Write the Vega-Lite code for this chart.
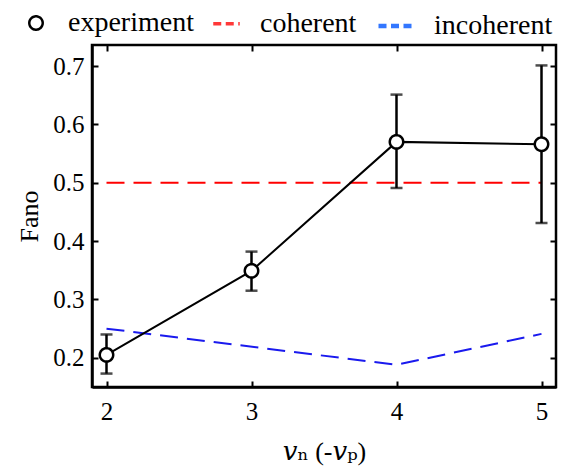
{
  "$schema": "https://vega.github.io/schema/vega-lite/v6.json",
  "width": 464,
  "height": 342,
  "autosize": {"type": "none"},
  "padding": {"left": 92, "top": 45, "right": 9, "bottom": 88},
  "background": "white",
  "config": {
    "font": "Liberation Serif",
    "view": {"stroke": "black", "strokeWidth": 2.5},
    "axis": {"grid": false, "domainColor": "black", "domainWidth": 2.5, "tickColor": "black", "tickWidth": 2, "tickSize": -6, "labelFont": "Liberation Serif", "labelFontSize": 25, "labelColor": "black", "titleFont": "Liberation Serif", "titleFontSize": 26, "titleColor": "black", "titleFontWeight": "normal"},
    "legend": {"title": null, "orient": "none", "direction": "horizontal", "legendX": -70, "legendY": -39, "labelFontSize": 28, "labelFont": "Liberation Serif", "labelColor": "black", "labelOffset": 18, "columnPadding": 12}
  },
  "datasets": {
    "exp": [
      {"v": 2, "fano": 0.205, "lo": 0.173, "hi": 0.240, "series": "experiment"},
      {"v": 3, "fano": 0.349, "lo": 0.315, "hi": 0.382, "series": "experiment"},
      {"v": 4, "fano": 0.570, "lo": 0.491, "hi": 0.651, "series": "experiment"},
      {"v": 5, "fano": 0.566, "lo": 0.431, "hi": 0.701, "series": "experiment"}
    ],
    "coh": [
      {"v": 2, "fano": 0.5, "series": "coherent"},
      {"v": 5, "fano": 0.5, "series": "coherent"}
    ],
    "inc": [
      {"v": 2, "fano": 0.250, "series": "incoherent"},
      {"v": 4, "fano": 0.188, "series": "incoherent"},
      {"v": 5, "fano": 0.241, "series": "incoherent"}
    ]
  },
  "layer": [
    {
      "layer": [
        {
          "data": {"name": "coh"},
          "mark": {"type": "line", "strokeWidth": 2, "strokeDash": [18, 9], "stroke": "#ff0000"},
          "encoding": {
            "x": {"field": "v", "type": "quantitative"},
            "y": {"field": "fano", "type": "quantitative"}
          }
        },
        {
          "data": {"name": "inc"},
          "mark": {"type": "line", "strokeWidth": 2, "strokeDash": [18, 9], "stroke": "#1a1aee"},
          "encoding": {
            "x": {"field": "v", "type": "quantitative"},
            "y": {"field": "fano", "type": "quantitative"}
          }
        },
        {
          "data": {"name": "exp"},
          "mark": {"type": "line", "stroke": "black", "strokeWidth": 2},
          "encoding": {
            "x": {"field": "v", "type": "quantitative"},
            "y": {"field": "fano", "type": "quantitative"}
          }
        },
        {
          "data": {"name": "exp"},
          "mark": {"type": "rule", "stroke": "black", "strokeWidth": 2.5},
          "encoding": {
            "x": {"field": "v", "type": "quantitative"},
            "y": {"field": "lo", "type": "quantitative"},
            "y2": {"field": "hi"}
          }
        },
        {
          "data": {"name": "exp"},
          "mark": {"type": "tick", "orient": "horizontal", "color": "black", "thickness": 2.5, "size": 12},
          "encoding": {
            "x": {"field": "v", "type": "quantitative"},
            "y": {"field": "lo", "type": "quantitative"}
          }
        },
        {
          "data": {"name": "exp"},
          "mark": {"type": "tick", "orient": "horizontal", "color": "black", "thickness": 2.5, "size": 12},
          "encoding": {
            "x": {"field": "v", "type": "quantitative"},
            "y": {"field": "hi", "type": "quantitative"}
          }
        },
        {
          "data": {"name": "exp"},
          "mark": {"type": "point", "filled": false, "fill": "white", "fillOpacity": 1, "opacity": 1},
          "encoding": {
            "x": {"field": "v", "type": "quantitative", "scale": {"domain": [1.9, 5.1], "nice": false, "zero": false}, "axis": {"values": [2, 3, 4, 5], "format": "d", "title": "𝑣ₙ (-𝑣ₚ)", "titleFont": "Liberation Serif, DejaVu Serif", "labelFont": "Liberation Serif", "labelPadding": 18, "titlePadding": 14}},
            "y": {"field": "fano", "type": "quantitative", "scale": {"domain": [0.15, 0.736], "nice": false, "zero": false}, "axis": {"values": [0.2, 0.3, 0.4, 0.5, 0.6, 0.7], "format": ".1f", "title": "Fano", "labelFont": "Liberation Serif", "labelPadding": 14, "titlePadding": 10}},
            "stroke": {"field": "series", "type": "nominal", "scale": {"domain": ["experiment", "coherent", "incoherent"], "range": ["black", "#ff3838", "#3377ff"]}},
            "shape": {"field": "series", "type": "nominal", "scale": {"domain": ["experiment", "coherent", "incoherent"], "range": ["circle", "stroke", "stroke"]}},
            "size": {"field": "series", "type": "nominal", "scale": {"domain": ["experiment", "coherent", "incoherent"], "range": [180, 1225, 1225]}},
            "strokeDash": {"field": "series", "type": "nominal", "scale": {"domain": ["experiment", "coherent", "incoherent"], "range": [[1, 0], [8, 4.5], [8, 4.5]]}},
            "strokeWidth": {"field": "series", "type": "nominal", "scale": {"domain": ["experiment", "coherent", "incoherent"], "range": [2.5, 4.5, 4.5]}}
          }
        }
      ]
    },
    {
      "data": {"name": "exp"},
      "mark": {"type": "point", "opacity": 0},
      "encoding": {
        "x": {"field": "v", "type": "quantitative", "scale": {"domain": [1.9, 5.1], "nice": false, "zero": false}, "axis": {"values": [2, 3, 4, 5], "labels": false, "title": null, "domain": false}},
        "y": {"field": "fano", "type": "quantitative", "scale": {"domain": [0.15, 0.736], "nice": false, "zero": false}, "axis": {"values": [0.2, 0.3, 0.4, 0.5, 0.6, 0.7], "labels": false, "title": null, "domain": false}}
      }
    }
  ],
  "resolve": {"scale": {"x": "independent", "y": "independent"}}
}
